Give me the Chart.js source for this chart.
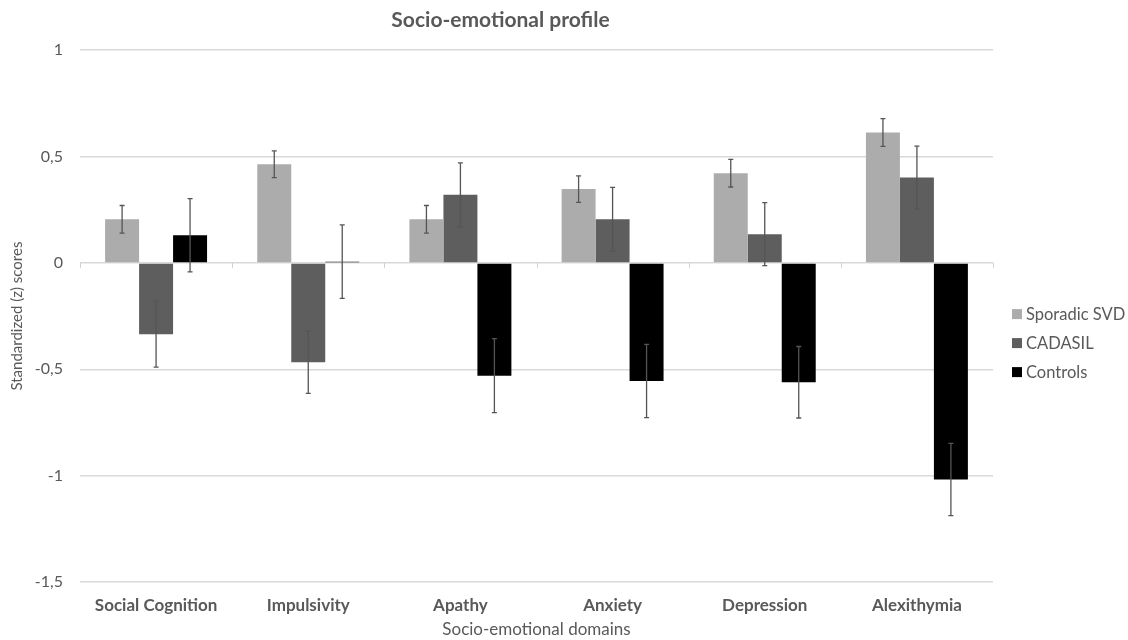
<!DOCTYPE html>
<html>
<head>
<meta charset="utf-8">
<title>Socio-emotional profile</title>
<script src="https://cdn.jsdelivr.net/npm/chart.js@4"></script>
<style>
  html, body { margin: 0; padding: 0; background: #fff; }
  #wrap { width: 1128px; height: 640px; }
</style>
</head>
<body>
<div id="wrap"><canvas id="profileChart"></canvas></div>
<script>
// data
const domains = ["Social Cognition", "Impulsivity", "Apathy", "Anxiety", "Depression", "Alexithymia"];
const yTicks = [1, 0.5, 0, -0.5, -1, -1.5];

const svdScores = [0.205, 0.464, 0.205, 0.347, 0.422, 0.613];
const svdErr = [0.065, 0.063, 0.065, 0.062, 0.065, 0.065];

const cadasilScores = [-0.335, -0.467, 0.32, 0.205, 0.135, 0.401];
const cadasilErr = [0.155, 0.146, 0.15, 0.15, 0.148, 0.148];

const controlScores = [0.13, 0.006, -0.53, -0.555, -0.561, -1.018];
const controlErr = [0.172, 0.173, 0.174, 0.172, 0.168, 0.17];

const textGray = "#595959";
const fontFam = "Lato, 'Open Sans', sans-serif";

// error bars on top of each bar
const errorBars = {
  id: "errorBars",
  afterDatasetsDraw(chart) {
    const ctx = chart.ctx;
    const y = chart.scales.y;
    ctx.save();
    ctx.strokeStyle = "#555";
    ctx.lineWidth = 1.3;
    chart.data.datasets.forEach((ds, i) => {
      const meta = chart.getDatasetMeta(i);
      meta.data.forEach((bar, j) => {
        const v = ds.data[j], e = ds.errors[j];
        const top = y.getPixelForValue(v + e);
        const bot = y.getPixelForValue(v - e);
        ctx.beginPath();
        ctx.moveTo(bar.x, top); ctx.lineTo(bar.x, bot);
        ctx.moveTo(bar.x - 2.5, top); ctx.lineTo(bar.x + 2.5, top);
        ctx.moveTo(bar.x - 2.5, bot); ctx.lineTo(bar.x + 2.5, bot);
        ctx.stroke();
      });
    });
    ctx.restore();
  }
};

// small category ticks on the zero line, like the original
const zeroTicks = {
  id: "zeroTicks",
  beforeDatasetsDraw(chart) {
    const ctx = chart.ctx;
    const x = chart.scales.x, y = chart.scales.y;
    const y0 = y.getPixelForValue(0);
    const step = x.width / domains.length;
    ctx.save();
    ctx.strokeStyle = "#d0d0d0";
    ctx.lineWidth = 1;
    for (let k = 0; k <= domains.length; k++) {
      const px = Math.round(x.left + k * step) + 0.5;
      ctx.beginPath();
      ctx.moveTo(px, y0);
      ctx.lineTo(px, y0 + 5);
      ctx.stroke();
    }
    ctx.restore();
  }
};

// legend drawn by hand so it can sit where the original has it
const sideLegend = {
  id: "sideLegend",
  afterDraw(chart) {
    const ctx = chart.ctx;
    const area = chart.chartArea;
    const x0 = area.right + 19;
    const yMid = (area.top + area.bottom) / 2 - 2;
    ctx.save();
    ctx.font = "16.5px " + fontFam;
    ctx.textBaseline = "middle";
    chart.data.datasets.forEach((ds, i) => {
      const yy = yMid + i * 29;
      ctx.fillStyle = ds.backgroundColor;
      ctx.fillRect(x0, yy - 5, 10, 10);
      ctx.fillStyle = textGray;
      ctx.fillText(ds.label, x0 + 14, yy + 1);
    });
    ctx.restore();
  }
};

new Chart(document.getElementById("profileChart"), {
  type: "bar",
  data: {
    labels: domains,
    datasets: [
      { label: "Sporadic SVD", data: svdScores, errors: svdErr, backgroundColor: "#acacac" },
      { label: "CADASIL", data: cadasilScores, errors: cadasilErr, backgroundColor: "#5e5e5e" },
      { label: "Controls", data: controlScores, errors: controlErr, backgroundColor: "#000000" }
    ]
  },
  options: {
    responsive: true,
    maintainAspectRatio: false,
    animation: false,
    datasets: {
      bar: { categoryPercentage: 0.67, barPercentage: 1.0 }
    },
    layout: { padding: { left: 8, right: 135, top: 0, bottom: 0 } },
    plugins: {
      title: {
        display: true,
        text: "Socio-emotional profile",
        color: textGray,
        font: { family: fontFam, size: 21, weight: "bold" },
        padding: { top: 8, bottom: 17 }
      },
      legend: { display: false },
      tooltip: { enabled: false }
    },
    scales: {
      x: {
        grid: { display: false },
        border: { display: false },
        afterFit(scale) {
          scale.height = 58;
        },
        ticks: {
          color: textGray,
          padding: 5,
          font: { family: fontFam, size: 17, weight: "bold" }
        },
        title: {
          display: true,
          text: "Socio-emotional domains",
          color: textGray,
          font: { family: fontFam, size: 17 },
          padding: { top: 4, bottom: 0 }
        }
      },
      y: {
        min: -1.5,
        max: 1,
        afterBuildTicks(scale) {
          scale.ticks = yTicks.map(v => ({ value: v }));
        },
        afterFit(scale) {
          scale.width = 72;
        },
        ticks: {
          color: textGray,
          padding: 17,
          font: { family: fontFam, size: 16 },
          callback: v => String(v).replace(".", ",")
        },
        grid: { color: "#d9d9d9", lineWidth: 1.5, drawTicks: false },
        border: { display: false },
        title: {
          display: true,
          text: "Standardized (z) scores",
          color: textGray,
          font: { family: fontFam, size: 15 },
          padding: { top: 0, bottom: 0 }
        }
      }
    }
  },
  plugins: [zeroTicks, errorBars, sideLegend]
});
</script>
</body>
</html>
